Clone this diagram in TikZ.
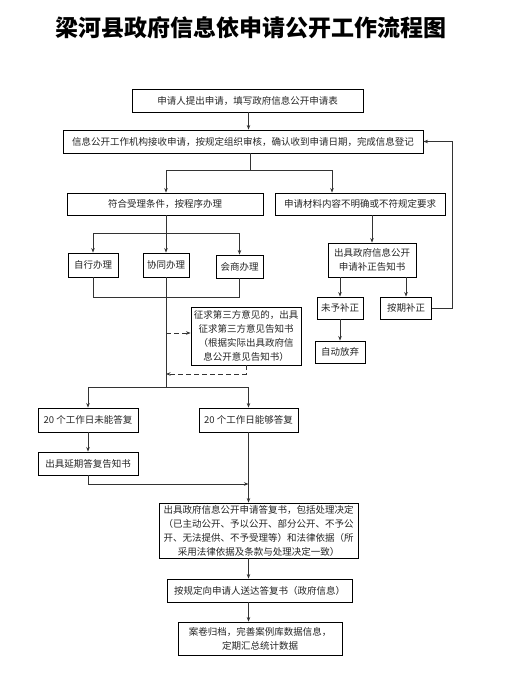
\documentclass[tikz,border=0pt]{standalone}
\usepackage{fontspec}
\setmainfont{Noto Sans CJK SC}
\usetikzlibrary{arrows.meta}
\tikzset{
  box/.style={draw=black, line width=0.9pt, inner sep=0pt, align=center,
    font=\fontsize{9.5}{14}\selectfont, text=black!85},
  conn/.style={draw=black!80, line width=0.8pt},
  arr/.style={conn, -{Stealth[length=4.5pt,width=3.5pt]}},
  dasharr/.style={arr, dash pattern=on 5pt off 3pt},
}
\begin{document}
\begin{tikzpicture}[x=1pt,y=-1pt]
\fill[white] (0,0) rectangle (531,699);
\useasboundingbox (0,0) rectangle (531,699);

\node[font=\fontsize{23}{23}\selectfont\bfseries] (title) at (251,28) {梁河县政府信息依申请公开工作流程图};

\node[box, minimum width=231pt, minimum height=23pt] (b1) at (247.5,100.5) {申请人提出申请，填写政府信息公开申请表};
\node[box, minimum width=360pt, minimum height=23pt] (b2) at (243,141.5) {信息公开工作机构接收申请，按规定组织审核，确认收到申请日期，完成信息登记};
\node[box, minimum width=196pt, minimum height=22pt] (b3) at (165,204) {符合受理条件，按程序办理};
\node[box, minimum width=170pt, minimum height=22pt] (b4) at (360,204) {申请材料内容不明确或不符规定要求};

\node[box, minimum width=50pt, minimum height=24pt] (s1) at (93,265) {自行办理};
\node[box, minimum width=46pt, minimum height=24pt] (s2) at (166,265) {协同办理};
\node[box, minimum width=47pt, minimum height=23pt] (s3) at (239.5,266.5) {会商办理};

\node[box, minimum width=88pt, minimum height=34pt] (bz) at (372,260) {出具政府信息公开\\申请补正告知书};
\node[box, minimum width=46pt, minimum height=22pt] (wy) at (340,308) {未予补正};
\node[box, minimum width=51pt, minimum height=22pt] (aq) at (406,308) {按期补正};
\node[box, minimum width=50pt, minimum height=22pt] (zd) at (340,352) {自动放弃};

\node[box, minimum width=110pt, minimum height=58pt] (zq) at (246,336) {征求第三方意见的，出具\\征求第三方意见告知书\\（根据实际出具政府信\\息公开意见告知书）};

\node[box, minimum width=100pt, minimum height=24pt] (n1) at (88,420) {20 个工作日未能答复};
\node[box, minimum width=99pt, minimum height=24pt] (n2) at (248.5,420) {20 个工作日能够答复};
\node[box, minimum width=100pt, minimum height=23pt] (yq) at (88,463.5) {出具延期答复告知书};

\node[box, minimum width=199pt, minimum height=55pt] (df) at (258.5,530.5) {出具政府信息公开申请答复书，包括处理决定\\（已主动公开、予以公开、部分公开、不予公\\开、无法提供、不予受理等）和法律依据（所\\采用法律依据及条款与处理决定一致）};
\node[box, minimum width=185pt, minimum height=23pt] (sd) at (259.5,590.5) {按规定向申请人送达答复书（政府信息）};
\node[box, minimum width=164pt, minimum height=33pt] (aj) at (260,638.5) {案卷归档，完善案例库数据信息，\\定期汇总统计数据};

\coordinate (c248) at (248.5,0);
\coordinate (c250) at (250,0);
\coordinate (c166) at (166,0);
\coordinate (c332) at (332,0);
\coordinate (j1) at (250,170);
\coordinate (j2) at (166,233);
\coordinate (j3) at (166,297);
\coordinate (j4) at (166,387);
\coordinate (j5) at (248.5,484);
\coordinate (fb) at (452,308);
\coordinate (m1) at (166,333);
\coordinate (m2) at (166,374);

\draw[arr] (b1.south -| c248) -- (b2.north -| c248);
\draw[conn] (b2.south -| c250) -- (j1);
\draw[arr] (j1) -| (b3.north -| c166);
\draw[arr] (j1) -| (b4.north -| c332);

\draw[conn] (b3.south -| c166) -- (j2);
\draw[arr] (j2) -| (s1.north);
\draw[arr] (j2) -- (s2.north);
\draw[arr] (j2) -| (s3.north);
\draw[conn] (s1.south) |- (s3.south |- j3) -- (s3.south);
\draw[conn] (s2.south) -- (j4);
\draw[arr] (j4) -| (n1.north);
\draw[arr] (j4) -| (n2.north);
\draw[arr] (n1.south) -- (yq.north);
\draw[arr] (yq.south) |- (j5);
\draw[arr] (n2.south) -- (df.north -| n2.south);
\draw[arr] (df.south -| c248) -- (sd.north -| c248);
\draw[arr] (sd.south -| c248) -- (aj.north -| c248);

\draw[dasharr] (m1) -- (m1 -| zq.west);
\draw[dasharr] (zq.south) |- (m2);

\draw[arr] (b4.south -| bz.north) -- (bz.north);
\draw[arr] (bz.south -| wy.north) -- (wy.north);
\draw[arr] (bz.south -| aq.north) -- (aq.north);
\draw[arr] (wy.south) -- (zd.north);
\draw[arr] (aq.east) -- (fb) |- (b2.east);
\end{tikzpicture}
\end{document}
